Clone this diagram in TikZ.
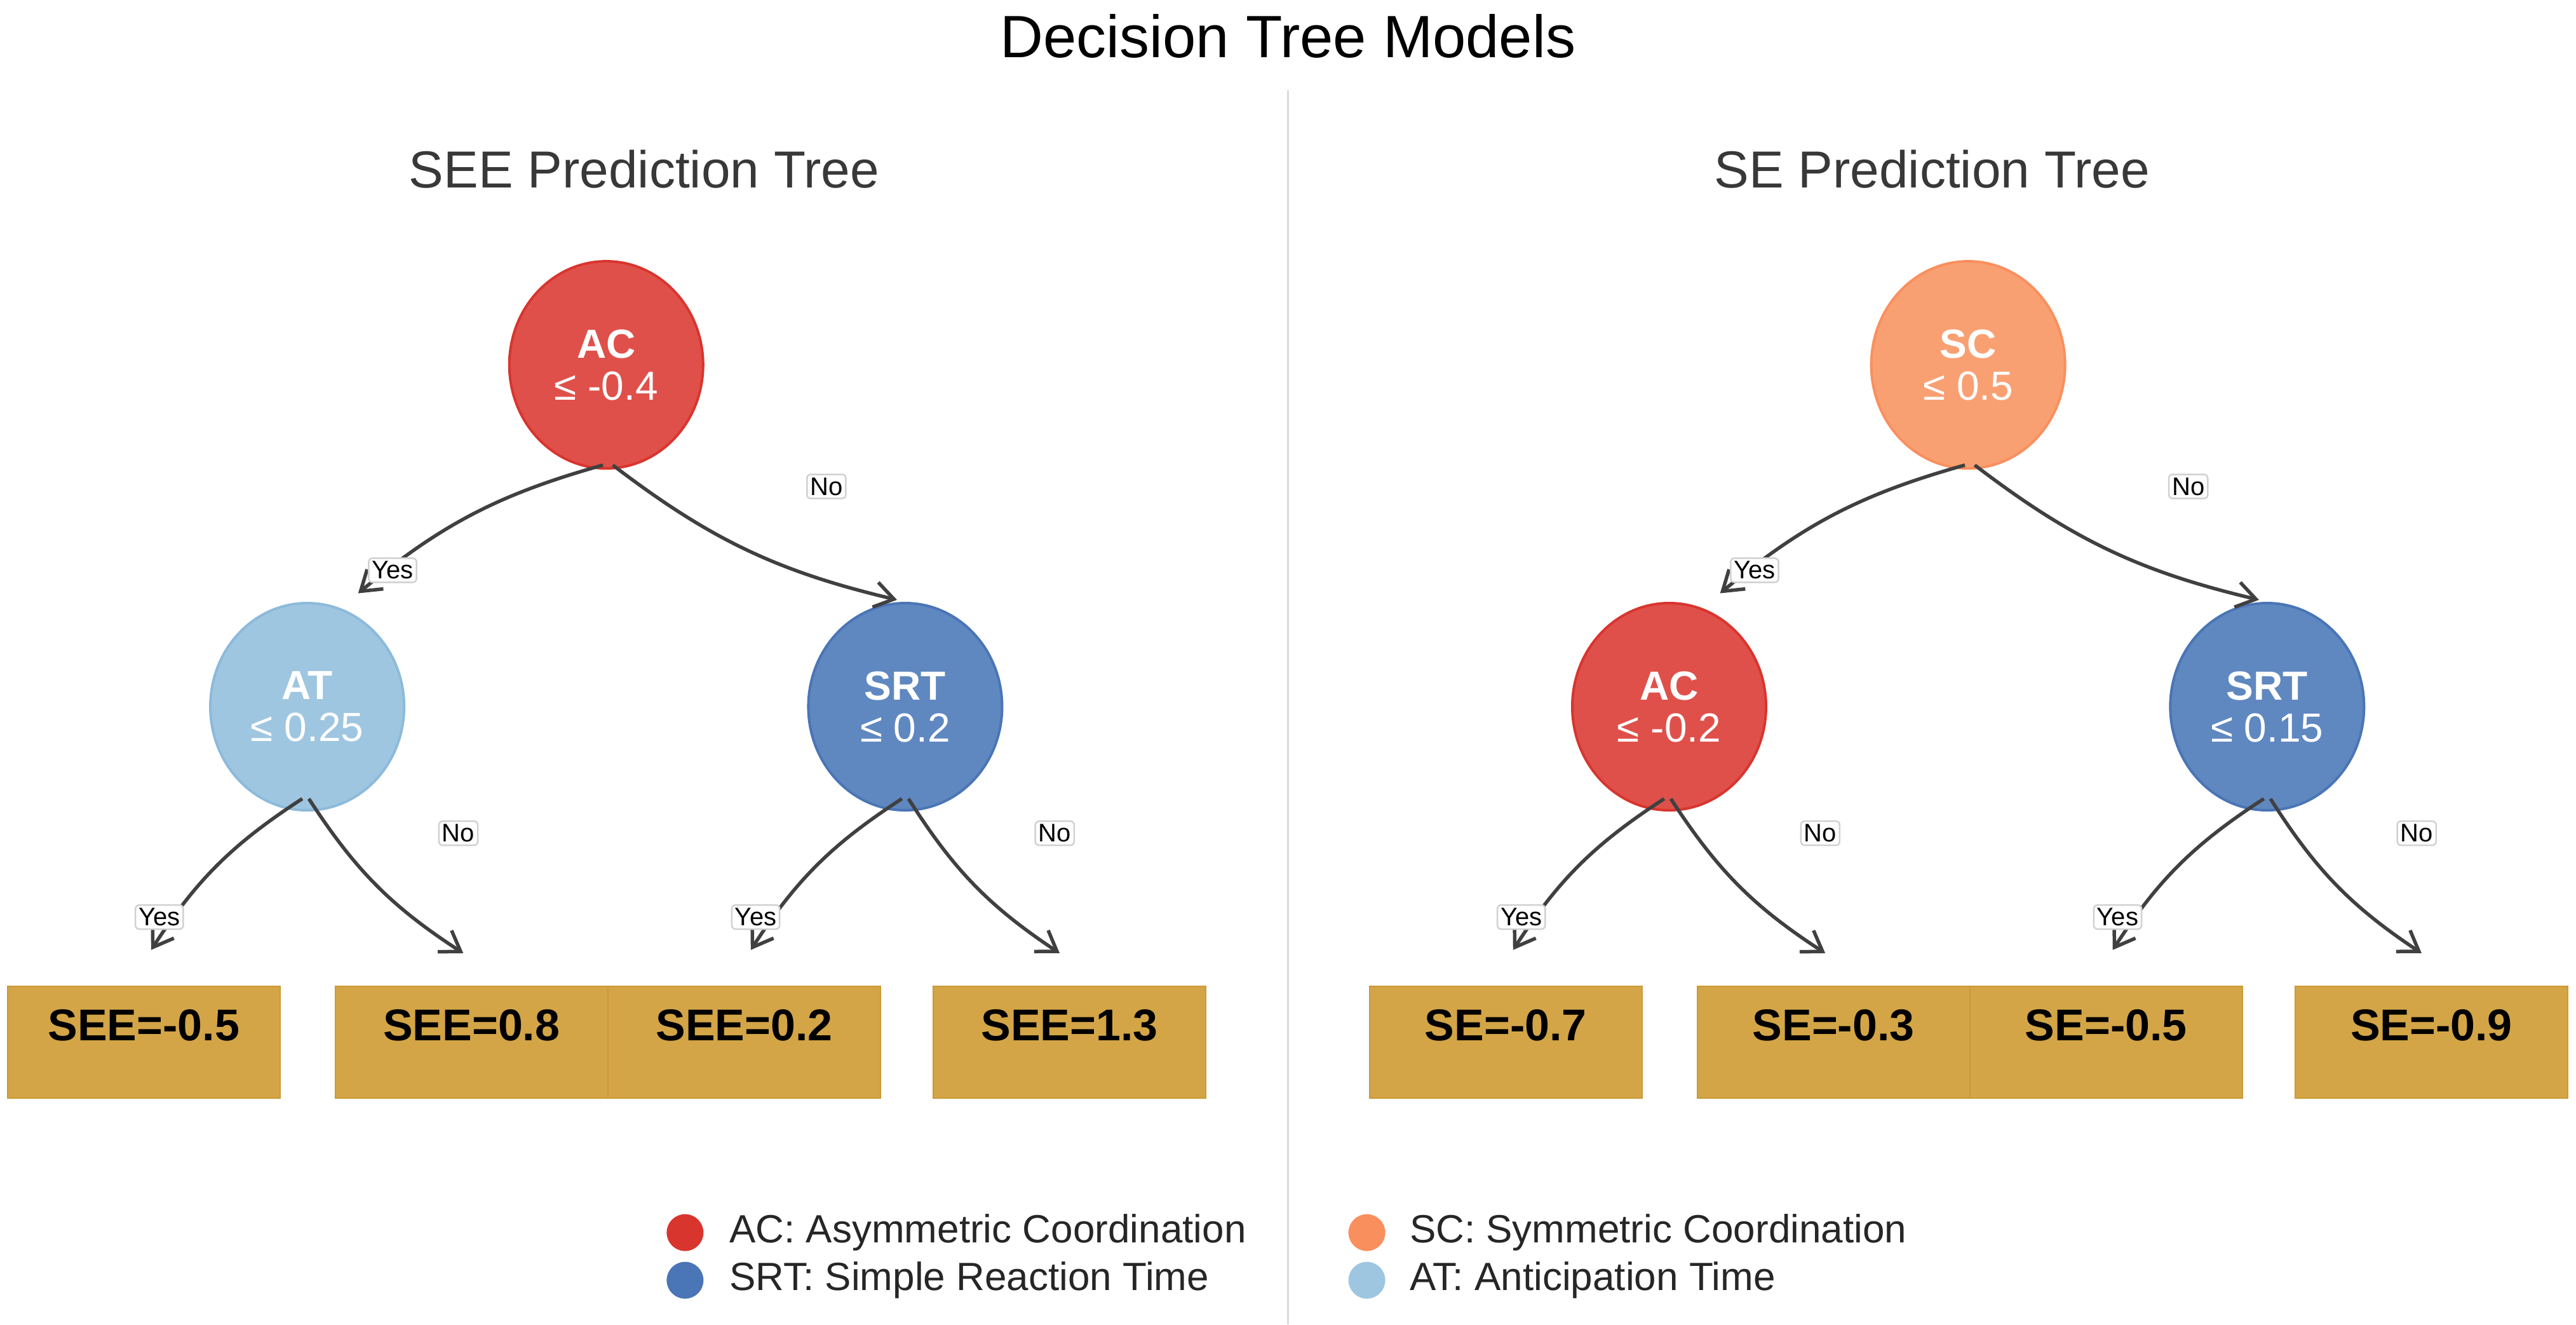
\documentclass[tikz,border=0pt]{standalone}
\usepackage{fontspec}
\setmainfont{Liberation Sans}
\usetikzlibrary{arrows.meta,shapes.geometric}
\definecolor{acF}{HTML}{E0504A}\definecolor{acB}{HTML}{D8352E}
\definecolor{scF}{HTML}{F9A072}\definecolor{scB}{HTML}{FA8F5E}
\definecolor{atF}{HTML}{9FC6E0}\definecolor{atB}{HTML}{8CBADB}
\definecolor{srF}{HTML}{5F88C0}\definecolor{srB}{HTML}{4A75B6}
\definecolor{lfF}{HTML}{D3A547}\definecolor{lfB}{HTML}{CB9A35}
\definecolor{edge}{HTML}{404040}
\begin{document}
\begin{tikzpicture}[x=2.586pt,y=-2.586pt,
  dn/.style={ellipse,draw,line width=4pt,minimum width=305pt,minimum height=326pt,inner sep=0pt,text=white,align=center,font=\fontsize{64}{70}\selectfont},
  leaf/.style={rectangle,draw=lfB,line width=2pt,fill=lfF,minimum width=429pt,minimum height=176pt,inner sep=0pt},
  lt/.style={font=\bfseries\fontsize{70}{80}\selectfont,inner sep=0pt},
  yn/.style={draw=black!18,line width=2.5pt,fill=white,rounded corners=6pt,inner sep=5pt,font=\fontsize{40}{44}\selectfont},
  ar/.style={draw=edge,line width=5.5pt,-{Straight Barb[length=30pt,width=40pt,line width=5.5pt]},bend right=12},
  lg/.style={circle,minimum size=58pt,inner sep=0pt},
  lgt/.style={anchor=west,font=\fontsize{62}{66}\selectfont,text=black!85,inner sep=0pt}]
\useasboundingbox (0,0) rectangle (1568,806);
\node (title) at (784,22) {\fontsize{94}{100}\selectfont Decision Tree Models};
\coordinate (dv1) at (784,55); \coordinate (dv2) at (784,806);
\draw[black!15,line width=3pt] (dv1) -- (dv2);
% ---------- left tree
\node[text=black!78,font=\fontsize{82}{90}\selectfont] (st1) at (392,103) {SEE Prediction Tree};
\node[dn,fill=acF,draw=acB] (r1) at (369,222) {\textbf{AC}\\[-4pt]≤ -0.4};
\node[dn,fill=atF,draw=atB] (a1) at (187,430) {\textbf{AT}\\[-4pt]≤ 0.25};
\node[dn,fill=srF,draw=srB] (b1) at (551,430) {\textbf{SRT}\\[-4pt]≤ 0.2};
\node[leaf] (l1) at (87.5,634) {}; \node[lt] at (87.5,624) (t1) {SEE=-0.5};
\node[leaf] (l2) at (287,634) {}; \node[lt] at (287,624) (t2) {SEE=0.8};
\node[leaf] (l3) at (453,634) {}; \node[lt] at (453,624) (t3) {SEE=0.2};
\node[leaf] (l4) at (651,634) {}; \node[lt] at (651,624) (t4) {SEE=1.3};
\coordinate (r1y) at (367,283); \coordinate (r1n) at (373,283);
\coordinate (a1t) at (218,361); \coordinate (b1t) at (546,365);
\coordinate (a1y) at (184,486); \coordinate (a1n) at (188,486);
\coordinate (b1y) at (549,486); \coordinate (b1n) at (553,486);
\coordinate (e1) at (92,578); \coordinate (e2) at (282,580);
\coordinate (e3) at (457,578); \coordinate (e4) at (645,580);
\draw[ar] (r1y) to (a1t); \draw[ar] (r1n) to (b1t);
\draw[ar] (a1y) to (e1); \draw[ar] (a1n) to (e2);
\draw[ar] (b1y) to (e3); \draw[ar] (b1n) to (e4);
\node[yn] (y1) at (239,347) {Yes}; \node[yn] (n1) at (503,296) {No};
\node[yn] (y2) at (97,558) {Yes}; \node[yn] (n2) at (279,507) {No};
\node[yn] (y3) at (460,558) {Yes}; \node[yn] (n3) at (642,507) {No};
% ---------- right tree
\node[text=black!78,font=\fontsize{82}{90}\selectfont] (st2) at (1176,103) {SE Prediction Tree};
\node[dn,fill=scF,draw=scB] (r2) at (1198,222) {\textbf{SC}\\[-4pt]≤ 0.5};
\node[dn,fill=acF,draw=acB] (a2) at (1016,430) {\textbf{AC}\\[-4pt]≤ -0.2};
\node[dn,fill=srF,draw=srB] (b2) at (1380,430) {\textbf{SRT}\\[-4pt]≤ 0.15};
\node[leaf] (l5) at (916.5,634) {}; \node[lt] at (916.5,624) (t5) {SE=-0.7};
\node[leaf] (l6) at (1116,634) {}; \node[lt] at (1116,624) (t6) {SE=-0.3};
\node[leaf] (l7) at (1282,634) {}; \node[lt] at (1282,624) (t7) {SE=-0.5};
\node[leaf] (l8) at (1480,634) {}; \node[lt] at (1480,624) (t8) {SE=-0.9};
\coordinate (r2y) at (1196,283); \coordinate (r2n) at (1202,283);
\coordinate (a2t) at (1047,361); \coordinate (b2t) at (1375,365);
\coordinate (a2y) at (1013,486); \coordinate (a2n) at (1017,486);
\coordinate (b2y) at (1378,486); \coordinate (b2n) at (1382,486);
\coordinate (e5) at (921,578); \coordinate (e6) at (1111,580);
\coordinate (e7) at (1286,578); \coordinate (e8) at (1474,580);
\draw[ar] (r2y) to (a2t); \draw[ar] (r2n) to (b2t);
\draw[ar] (a2y) to (e5); \draw[ar] (a2n) to (e6);
\draw[ar] (b2y) to (e7); \draw[ar] (b2n) to (e8);
\node[yn] (y4) at (1068,347) {Yes}; \node[yn] (n4) at (1332,296) {No};
\node[yn] (y5) at (926,558) {Yes}; \node[yn] (n5) at (1108,507) {No};
\node[yn] (y6) at (1289,558) {Yes}; \node[yn] (n6) at (1471,507) {No};
% ---------- legend
\node[lg,fill=acB] (g1) at (417,750) {}; \node[lgt] (g1t) at (444,750) {AC: Asymmetric Coordination};
\node[lg,fill=srB] (g2) at (417,779) {}; \node[lgt] (g2t) at (444,779) {SRT: Simple Reaction Time};
\node[lg,fill=scB] (g3) at (832,750) {}; \node[lgt] (g3t) at (858,750) {SC: Symmetric Coordination};
\node[lg,fill=atF] (g4) at (832,779) {}; \node[lgt] (g4t) at (858,779) {AT: Anticipation Time};
\end{tikzpicture}
\end{document}
